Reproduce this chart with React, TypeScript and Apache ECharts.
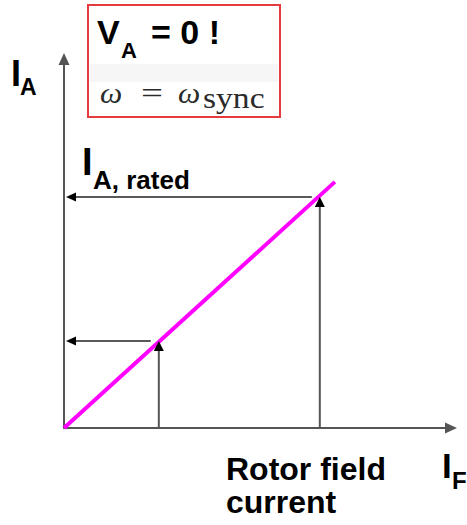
import React, { useEffect, useRef } from 'react';
import * as echarts from 'echarts';

// Axis domain (arbitrary units)
const axisMax = 100;
// Magenta characteristic: rotor field current -> armature current (V_A = 0)
const lineField = [0, 70];
const lineArmature = [0, 66.7];
// Operating points marked by arrows (field current, armature current)
const opField = [24.5, 66.1];
const opArmature = [23.6, 62.6];

const SANS = "'Liberation Sans', Arial, Helvetica, sans-serif";
const SERIF = "'Liberation Serif', 'Times New Roman', serif";

export default function App() {
  const ref = useRef<HTMLDivElement>(null);
  useEffect(() => {
    if (!ref.current) return;
    const chart = echarts.init(ref.current, undefined, { renderer: 'svg' });
    const lineData = lineField.map((x, i) => [x, lineArmature[i]]);
    const opData = opField.map((x, i) => [x, opArmature[i]]);

    const axisCommon = {
      type: 'value' as const,
      min: 0,
      max: axisMax,
      axisLine: {
        show: true,
        lineStyle: { color: '#555', width: 2 },
        symbol: ['none', 'triangle'],
        symbolSize: [11, 12],
      },
      axisTick: { show: false },
      axisLabel: { show: false },
      splitLine: { show: false },
    };

    const txt = (x: number, y: number, text: string, size: number, opts: any = {}) => ({
      type: 'text',
      x,
      y,
      scaleX: opts.scaleX ?? 1,
      style: {
        x: 0,
        y: 0,
        text,
        font: `${opts.style ?? 'normal'} ${opts.weight ?? 'bold'} ${size}px ${opts.family ?? SANS}`,
        fill: opts.fill ?? '#000',
        align: 'left',
        verticalAlign: 'middle',
      },
      z: 10,
    });

    const serifOpts = (extra: any = {}) => ({ weight: 'normal', family: SERIF, fill: '#2a2a2a', ...extra });

    chart.setOption({
      animation: false,
      backgroundColor: '#fff',
      grid: { left: 64, right: 16, top: 59, bottom: 97 },
      xAxis: axisCommon,
      yAxis: axisCommon,
      series: [
        {
          type: 'line',
          data: lineData,
          showSymbol: false,
          symbol: 'none',
          lineStyle: { color: '#ff00ff', width: 4 },
          z: 3,
        },
        {
          // vertical arrows from the field-current axis up to the operating point
          type: 'custom',
          data: opData,
          clip: false,
          z: 4,
          renderItem: (params: any, api: any) => {
            const x = api.value(0);
            const y = api.value(1);
            const p0 = api.coord([x, 0]);
            const p1 = api.coord([x, y]);
            const h = 10;
            const w = 5;
            return {
              type: 'group',
              children: [
                {
                  type: 'line',
                  shape: { x1: p0[0], y1: p0[1], x2: p1[0], y2: p1[1] + h },
                  style: { stroke: '#555', lineWidth: 2 },
                },
                {
                  type: 'polygon',
                  shape: { points: [[p1[0], p1[1]], [p1[0] - w, p1[1] + h], [p1[0] + w, p1[1] + h]] },
                  style: { fill: '#000' },
                },
              ],
            };
          },
        },
        {
          // horizontal arrows from the operating point to the armature-current axis
          type: 'custom',
          data: opData,
          clip: false,
          z: 2,
          renderItem: (params: any, api: any) => {
            const x = api.value(0);
            const y = api.value(1);
            const p0 = api.coord([x, y]);
            const p1 = api.coord([0, y]);
            const tipX = p1[0] + 2;
            const h = 10;
            const w = 4.5;
            return {
              type: 'group',
              children: [
                {
                  type: 'line',
                  shape: { x1: p0[0] - 8, y1: p0[1], x2: tipX + h, y2: p1[1] },
                  style: { stroke: '#222', lineWidth: 1.5 },
                },
                {
                  type: 'polygon',
                  shape: { points: [[tipX, p1[1]], [tipX + h, p1[1] - w], [tipX + h, p1[1] + w]] },
                  style: { fill: '#000' },
                },
              ],
            };
          },
        },
      ],
      graphic: [
        {
          type: 'rect',
          shape: { x: 88, y: 5, width: 192, height: 112 },
          style: { fill: '#fff', stroke: '#e8393b', lineWidth: 2 },
          z: 5,
        },
        {
          type: 'rect',
          shape: { x: 90, y: 64, width: 188, height: 18 },
          style: { fill: '#f6f6f6' },
          z: 6,
        },
        txt(97, 32, 'V', 34),
        txt(121, 50, 'A', 22),
        txt(151, 32, '= 0 !', 34),
        txt(100, 93, 'ω', 30, serifOpts({ style: 'italic', scaleX: 1.05 })),
        txt(141, 93, '=', 30, serifOpts({ scaleX: 1.3 })),
        txt(178, 93, 'ω', 30, serifOpts({ style: 'italic', scaleX: 1.05 })),
        txt(203, 98, 'sync', 30, serifOpts({ scaleX: 1.12 })),
        txt(11, 73, 'I', 36),
        txt(20, 87, 'A', 23),
        txt(82, 162, 'I', 38),
        txt(93, 180, 'A, rated', 26),
        txt(442, 465, 'I', 35),
        txt(452, 480, 'F', 24),
        txt(226, 469, 'Rotor field', 32),
        txt(226, 502, 'current', 32),
      ],
    });
    return () => chart.dispose();
  }, []);
  return (
    <div
      ref={ref}
      style={{ position: 'absolute', left: 0, top: 0, width: 467, height: 525, background: '#fff' }}
    />
  );
}
